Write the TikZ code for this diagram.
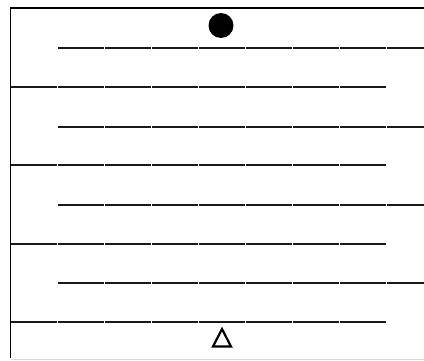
\documentclass[tikz,border=0pt]{standalone}
\usetikzlibrary{shapes.geometric}
\begin{document}
\begin{tikzpicture}[
  x=1pt, y=-1pt,
  frame/.style={line width=1.4pt, black},
  seg/.style={line width=1.6pt, black!90},
  dot/.style={circle, fill=black, inner sep=0pt, minimum size=25pt}
]
\useasboundingbox (0,0) rectangle (424,361);

% frame
\draw[frame] (424,8) -- (10.5,8) -- (10.5,358);
\draw[black!15, line width=1pt] (11,359.5) -- (424,359.5);

% long rows (indented)
\foreach \y in {48,127,205,283}
  \foreach \k in {0,...,7}
    \draw[seg] ({58+47*\k},\y) -- ({min(103.5+47*\k,424)},\y);

% short rows (from the frame)
\foreach \y in {87,165,244,322} {
  \draw[seg] (10.5,\y) -- (56.5,\y);
  \foreach \k in {0,...,6}
    \draw[seg] ({58+47*\k},\y) -- ({103.5+47*\k},\y);
}

% markers
\node[dot] (start) at (221,25.5) {};
\draw[line width=2.2pt, line join=miter] (222,329) -- (231,346.5) -- (213,346.5) -- cycle;
\end{tikzpicture}
\end{document}
